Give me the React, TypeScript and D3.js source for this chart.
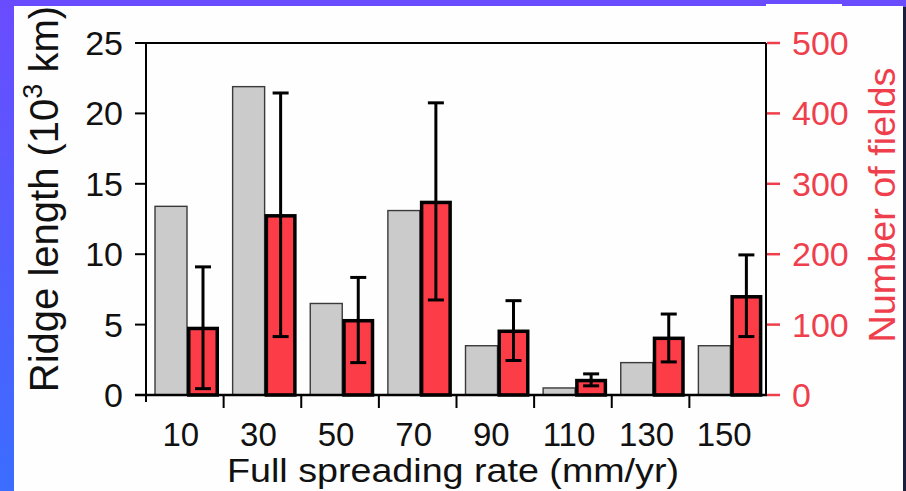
import * as d3 from "d3";

// spreading-rate bins (mm/yr)
const rates = ["10", "30", "50", "70", "90", "110", "130", "150"];
// ridge length, 10^3 km (grey bars, left axis)
const ridgeLength = [13.4, 21.9, 6.5, 13.1, 3.5, 0.5, 2.3, 3.5];
// number of hydrothermal fields (red bars, right axis)
const fieldCount = [97, 257, 108, 276, 93, 23, 83, 142];
const fieldHigh = [182, 429, 167, 415, 134, 30, 115, 199];
const fieldLow = [9, 83, 46, 135, 49, 13, 47, 83];

const leftTicks = [0, 5, 10, 15, 20, 25];
const rightTicks = [0, 100, 200, 300, 400, 500];

const RED = "#fc3d48";
const RED_TEXT = "#ef3f4c";
const FONT = "'Liberation Sans', Arial, sans-serif";

export default function App() {
  const width = 906;
  const height = 491;
  const left = 146;
  const right = 767;
  const top = 43;
  const bottom = 395;

  const x0 = d3.scaleBand<string>().domain(rates).range([left, right]);
  const x1 = d3
    .scaleBand<string>()
    .domain(["ridge", "fields"])
    .range([9, 73]);
  const y = d3.scaleLinear().domain([0, 25]).range([bottom, top]);
  const yR = d3.scaleLinear().domain([0, 500]).range([bottom, top]);

  const sw = 3.5; // red bar outline

  return (
    <div style={{ position: "absolute", left: 0, top: 0 }}>
      <svg width={width} height={height} style={{ display: "block" }}>
        <defs>
          <linearGradient id="edge" x1="0" y1="0" x2="0" y2="1">
            <stop offset="0" stopColor="#6a4cff" />
            <stop offset="1" stopColor="#3b6dff" />
          </linearGradient>
        </defs>
        {/* slide frame */}
        <rect x={0} y={0} width={width} height={height} fill="url(#edge)" />
        <rect x={0} y={0} width={width} height={7} fill="#6a4cff" />
        <rect x={14} y={6} width={889} height={height - 6} fill="#fefefe" />
        <rect x={766} y={4} width={76} height={4} fill="#fefefe" />
        <rect x={903} y={7} width={3} height={height - 7} fill="#1b1f3d" />

        {/* bars */}
        {rates.map((r, i) => {
          const bx = x0(r)!;
          const gx = bx + x1("ridge")!;
          const rx = bx + x1("fields")!;
          const bw = x1.bandwidth();
          const cx = rx + bw / 2;
          return (
            <g key={r}>
              <rect
                x={gx}
                y={y(ridgeLength[i])}
                width={bw}
                height={bottom - y(ridgeLength[i])}
                fill="#cbcbcb"
                stroke="#3a3a3a"
                strokeWidth={1.4}
              />
              <rect
                x={rx + sw / 2}
                y={yR(fieldCount[i]) + sw / 2}
                width={bw - sw}
                height={bottom - yR(fieldCount[i]) - sw / 2}
                fill={RED}
                stroke="#000"
                strokeWidth={sw}
              />
              <line x1={cx} x2={cx} y1={yR(fieldHigh[i])} y2={yR(fieldLow[i])} stroke="#000" strokeWidth={3} />
              <line x1={cx - 8} x2={cx + 8} y1={yR(fieldHigh[i])} y2={yR(fieldHigh[i])} stroke="#000" strokeWidth={3} />
              <line x1={cx - 8} x2={cx + 8} y1={yR(fieldLow[i])} y2={yR(fieldLow[i])} stroke="#000" strokeWidth={3} />
            </g>
          );
        })}

        {/* box */}
        <line x1={left} x2={right - 1} y1={top} y2={top} stroke="#000" strokeWidth={2} />
        <line x1={right - 1} x2={right - 1} y1={top} y2={bottom} stroke="#000" strokeWidth={2} />
        <line x1={left} x2={left} y1={top} y2={bottom + 7} stroke="#000" strokeWidth={2} />
        <line x1={left - 11} x2={right} y1={bottom} y2={bottom} stroke="#000" strokeWidth={2.5} />

        {/* left axis */}
        {leftTicks.map((t) => (
          <g key={t}>
            <line x1={left - 11} x2={left} y1={y(t)} y2={y(t)} stroke="#000" strokeWidth={2} />
            <text
              x={123}
              y={y(t)}
              textAnchor="end"
              dominantBaseline="central"
              fontFamily={FONT}
              fontSize={34}
              fill="#111"
            >
              {t}
            </text>
          </g>
        ))}

        {/* right axis */}
        {rightTicks.map((t) => (
          <g key={t}>
            <line x1={right} x2={780} y1={yR(t)} y2={yR(t)} stroke={RED_TEXT} strokeWidth={2.5} />
            <text
              x={792}
              y={yR(t)}
              dominantBaseline="central"
              fontFamily={FONT}
              fontSize={34}
              fill={RED_TEXT}
            >
              {t}
            </text>
          </g>
        ))}

        {/* x axis: ticks at bin boundaries, labels at centres */}
        {rates.slice(1).map((r) => (
          <line key={r} x1={x0(r)!} x2={x0(r)!} y1={bottom} y2={bottom + 13} stroke="#000" strokeWidth={2} />
        ))}
        {rates.map((r) => (
          <text
            key={r}
            x={x0(r)! + x0.bandwidth() / 2 - 4}
            y={446}
            textAnchor="middle"
            fontFamily={FONT}
            fontSize={33}
            fill="#111"
          >
            {r}
          </text>
        ))}

        <text
          x={453}
          y={482}
          textAnchor="middle"
          fontFamily={FONT}
          fontSize={34}
          fill="#111"
          textLength={452}
          lengthAdjust="spacingAndGlyphs"
        >
          Full spreading rate (mm/yr)
        </text>

        <text
          transform="translate(58,199) rotate(-90)"
          textAnchor="middle"
          fontFamily={FONT}
          fontSize={40}
          fill="#111"
        >
          Ridge length (10
          <tspan fontSize={27} dy={-16}>
            3
          </tspan>
          <tspan dy={16}> km)</tspan>
        </text>

        <text
          transform="translate(895,205) rotate(-90)"
          textAnchor="middle"
          fontFamily={FONT}
          fontSize={37}
          fill={RED_TEXT}
          textLength={275}
          lengthAdjust="spacingAndGlyphs"
        >
          Number of fields
        </text>
      </svg>
    </div>
  );
}
